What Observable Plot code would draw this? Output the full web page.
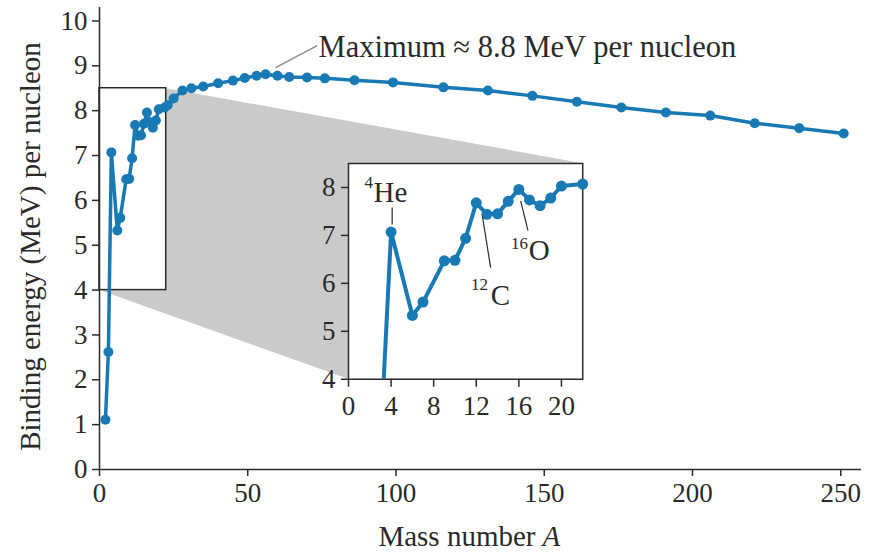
<!DOCTYPE html>
<html>
<head>
<meta charset="utf-8">
<script src="https://cdn.jsdelivr.net/npm/d3@7"></script>
<script src="https://cdn.jsdelivr.net/npm/@observablehq/plot@0.6"></script>
<style>
  html, body { margin: 0; padding: 0; background: white; }
  #wrap { position: relative; width: 869px; height: 560px; overflow: hidden; }
  #inset { position: absolute; }
</style>
</head>
<body>
<div id="wrap"><div id="main"></div><div id="inset"></div></div>
<script>
// ---- data ----
const massNumber = [2, 3, 4, 6, 7, 9, 10, 11, 12, 13, 14, 15, 16, 17, 18, 19, 20, 22, 23, 25, 28, 31, 35, 40, 45, 49, 53, 56, 60, 64, 70, 76, 86, 99, 116, 131, 146, 161, 176, 191, 206, 221, 236, 251];
const bindingEnergy = [1.11, 2.62, 7.07, 5.33, 5.61, 6.47, 6.48, 6.94, 7.68, 7.44, 7.45, 7.71, 7.96, 7.74, 7.62, 7.78, 8.03, 8.07, 8.12, 8.27, 8.45, 8.5, 8.54, 8.61, 8.67, 8.73, 8.78, 8.81, 8.78, 8.75, 8.74, 8.72, 8.68, 8.63, 8.52, 8.45, 8.33, 8.2, 8.07, 7.96, 7.89, 7.72, 7.61, 7.49];
const xTicks = [0, 50, 100, 150, 200, 250];
const yTicks = [0, 1, 2, 3, 4, 5, 6, 7, 8, 9, 10];
const insetXTicks = [0, 4, 8, 12, 16, 20];
const insetYTicks = [4, 5, 6, 7, 8];
const nuclideSymbols = ["He", "C", "O"];
const nuclideMasses = ["4", "12", "16"];
const yLabel = "Binding energy (MeV) per nucleon";
const xLabelText = "Mass number";
const xLabelVar = "A";
const maxNote = "Maximum \u2248 8.8 MeV per nucleon";

// ---- layout constants (in data units of the respective plots) ----
const zoomWindow = {x1: 0, x2: 22.5, y1: 4, y2: 8.5};
const insetDomainX = [0, 22];
const insetDomainY = [4, 8.5];
const insetBox = {x1: 84, x2: 163, y1: 2.02, y2: 6.83}; // where the inset sits, in main-chart units
const maxLeader = {x1: 59.4, y1: 8.96, x2: 73.4, y2: 9.45};
const maxText = {x: 73.9, y: 9.42};
const symbolPos = [{x: 2.35, y: 7.89}, {x: 13.35, y: 5.74}, {x: 16.92, y: 6.68}];
const massPos = [{x: 2.3, y: 8.1}, {x: 13.1, y: 5.97}, {x: 16.85, y: 6.83}];
const leaders = [
  {x1: 4.1, y1: 7.58, x2: 4.1, y2: 7.23},
  {x1: 12.57, y1: 7.41, x2: 13.35, y2: 6.33},
  {x1: 16.17, y1: 7.72, x2: 16.86, y2: 7.1}
];

const blue = "#1879b5";
const ink = "#2a2a2a";
const font = "'Liberation Serif', 'Times New Roman', serif";

const data = massNumber.map((A, i) => ({A, E: bindingEnergy[i]}));
const hull = [
  {A: zoomWindow.x1, E: zoomWindow.y2},
  {A: zoomWindow.x2, E: zoomWindow.y2},
  {A: insetBox.x2, E: insetBox.y2},
  {A: insetBox.x2, E: insetBox.y1},
  {A: insetBox.x1, E: insetBox.y1},
  {A: zoomWindow.x1, E: zoomWindow.y1}
];

const main = Plot.plot({
  width: 869, height: 560,
  marginLeft: 99, marginRight: 8, marginTop: 7, marginBottom: 91,
  x: {domain: [0, 257]},
  y: {domain: [0, 10.3]},
  style: {fontFamily: font, fontSize: "27px", color: ink, background: "white", overflow: "visible"},
  marks: [
    Plot.line(hull, {x: "A", y: "E", fill: "#cacaca", stroke: "none", curve: "linear-closed"}),
    Plot.rect([zoomWindow], {x1: "x1", x2: "x2", y1: "y1", y2: "y2", fill: "white", stroke: ink, strokeWidth: 1.5}),
    Plot.ruleX([0], {stroke: ink, strokeWidth: 1.5}),
    Plot.ruleY([0], {stroke: ink, strokeWidth: 1.5}),
    Plot.axisX({ticks: xTicks, tickSize: 7, tickPadding: 6, label: null, stroke: ink, strokeWidth: 1.5}),
    Plot.axisY({ticks: yTicks, tickSize: 7, tickPadding: 5, label: null, stroke: ink, strokeWidth: 1.5}),
    Plot.line(data, {x: "A", y: "E", stroke: blue, strokeWidth: 3.5}),
    Plot.dot(data, {x: "A", y: "E", r: 5, fill: blue, stroke: "none"}),
    Plot.link([maxLeader], {x1: "x1", y1: "y1", x2: "x2", y2: "y2", stroke: "#8a8a8a", strokeWidth: 1.5}),
    Plot.text([maxNote], {x: maxText.x, y: maxText.y, text: d => d, textAnchor: "start", fontSize: 30.5, fill: ink}),
    Plot.text([yLabel], {frameAnchor: "left", text: d => d, textAnchor: "middle", rotate: -90, dx: -69, dy: 8, fontSize: 29, fill: ink}),
    Plot.text([xLabelText], {frameAnchor: "bottom", text: d => d, textAnchor: "end", dx: 55, dy: 76, fontSize: 29, fill: ink}),
    Plot.text([xLabelVar], {frameAnchor: "bottom", text: d => d, textAnchor: "start", dx: 62, dy: 76, fontSize: 29, fontStyle: "italic", fill: ink})
  ]
});
document.getElementById("main").appendChild(main);

// position the inset using the main chart's scales
const sx = main.scale("x"), sy = main.scale("y");
const px = d3.scaleLinear().domain(sx.domain).range(sx.range);
const py = d3.scaleLinear().domain(sy.domain).range(sy.range);
const L = px(insetBox.x1), R = px(insetBox.x2), T = py(insetBox.y2), B = py(insetBox.y1);
const iml = 45, imr = 14, imt = 10, imb = 50;

const insetData = data.filter(d => d.A <= insetDomainX[1] && d.E >= insetDomainY[0]);
const symbols = nuclideSymbols.map((s, i) => ({s, ...symbolPos[i]}));
const masses = nuclideMasses.map((m, i) => ({m, ...massPos[i]}));

const inset = Plot.plot({
  width: iml + (R - L) + imr, height: imt + (B - T) + imb,
  marginLeft: iml, marginRight: imr, marginTop: imt, marginBottom: imb,
  x: {domain: insetDomainX},
  y: {domain: insetDomainY},
  style: {fontFamily: font, fontSize: "27px", color: ink, background: "transparent", overflow: "visible"},
  marks: [
    Plot.frame({fill: "white", stroke: ink, strokeWidth: 1.5}),
    Plot.axisX({ticks: insetXTicks, tickFormat: d3.format("d"), tickSize: 8, tickPadding: 9, label: null, stroke: ink, strokeWidth: 1.5}),
    Plot.axisY({ticks: insetYTicks, tickFormat: d3.format("d"), tickSize: 7, tickPadding: 6, label: null, stroke: ink, strokeWidth: 1.5}),
    Plot.line(data, {x: "A", y: "E", stroke: blue, strokeWidth: 4, clip: true}),
    Plot.dot(insetData, {x: "A", y: "E", r: 5.5, fill: blue, stroke: "none"}),
    Plot.link(leaders, {x1: "x1", y1: "y1", x2: "x2", y2: "y2", stroke: ink, strokeWidth: 1.2}),
    Plot.text(symbols, {x: "x", y: "y", text: "s", textAnchor: "start", fontSize: 29, fill: ink}),
    Plot.text(masses, {x: "x", y: "y", text: "m", textAnchor: "end", fontSize: 17, fill: ink})
  ]
});
const insetDiv = document.getElementById("inset");
insetDiv.style.left = (L - iml) + "px";
insetDiv.style.top = (T - imt) + "px";
insetDiv.appendChild(inset);
</script>
</body>
</html>
